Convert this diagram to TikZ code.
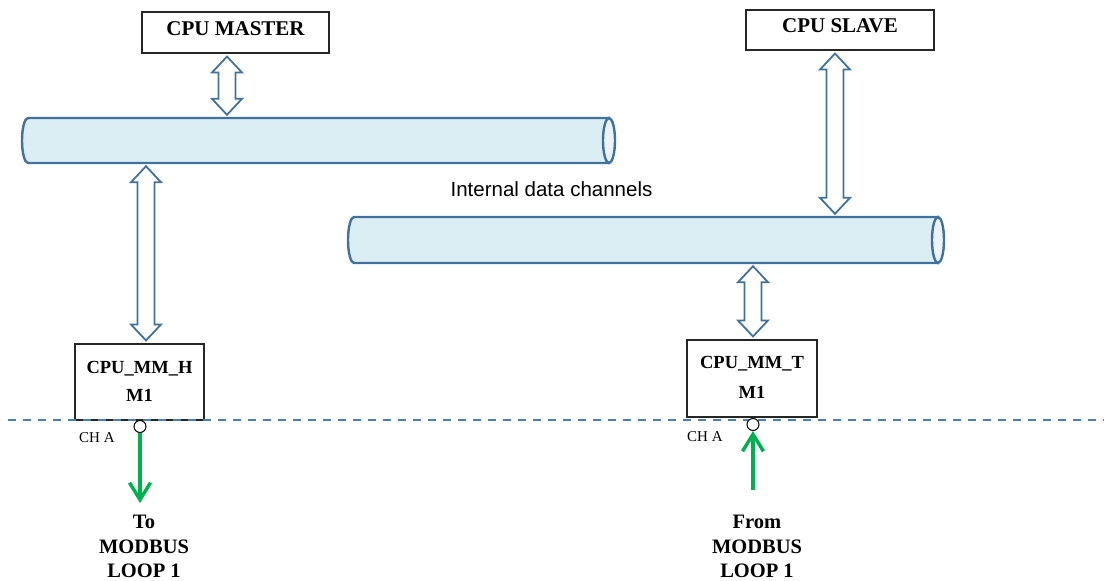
\documentclass[tikz,border=0pt]{standalone}
\usepackage{fontspec}
\setmainfont{Liberation Serif}
\newfontfamily\arialfont{Liberation Sans}
\usetikzlibrary{arrows.meta,calc}

\definecolor{busline}{HTML}{41719C}
\definecolor{busfill}{HTML}{DAEEF3}
\definecolor{busend}{HTML}{EAF4F8}
\definecolor{divline}{HTML}{4A7EBB}
\definecolor{loopgreen}{HTML}{00B050}

% hollow two-headed bus arrow between two anchors, at a given x (px)
\newcommand\busarrow[3]{%
  \draw[busarrow] let \p1=(#2), \p2=(#3),
        \p3=({#1pt},{\y1-3pt}), \p4=({#1pt},{\y2+3pt}) in
    (\p3) -- ({\x3+15pt},{\y3-16pt}) -- ({\x3+8.5pt},{\y3-16pt})
    -- ({\x3+8.5pt},{\y4+16pt}) -- ({\x3+15pt},{\y4+16pt}) -- (\p4)
    -- ({\x3-15pt},{\y4+16pt}) -- ({\x3-8.5pt},{\y4+16pt})
    -- ({\x3-8.5pt},{\y3-16pt}) -- ({\x3-15pt},{\y3-16pt}) -- cycle;}

% horizontal pipe: left x, right x, top y, bottom y
\newcommand\pipe[4]{%
  \pgfmathsetmacro\pry{(#4-#3)/2}%
  \draw[pipebody] (#2-6,#3) -- (#1+6,#3)
     arc[start angle=90, end angle=270, x radius=6pt, y radius=\pry pt]
     -- (#2-6,#4) -- cycle;
  \draw[pipeend] (#2-6,{(#3+#4)/2}) ellipse[x radius=6pt, y radius=\pry pt];}

\tikzset{
  box/.style={draw=black!85, line width=1.1pt, fill=white, inner sep=0pt},
  boxtext/.style={font=\bfseries\fontsize{21}{25}\selectfont, anchor=base, inner sep=0pt},
  modtext/.style={font=\bfseries\fontsize{18.5}{22}\selectfont, anchor=base, inner sep=0pt},
  looptext/.style={font=\bfseries\fontsize{20.5}{24}\selectfont, anchor=base, inner sep=0pt},
  chtext/.style={font=\fontsize{15}{18}\selectfont, anchor=base west, inner sep=0pt},
  busarrow/.style={draw=busline, line width=1.8pt, fill=white, line join=miter},
  pipebody/.style={draw=busline, line width=2.4pt, fill=busfill},
  pipeend/.style={draw=busline, line width=2.4pt, fill=busend},
  port/.style={circle, draw=black, line width=1pt, fill=white, inner sep=0pt, minimum size=12pt},
  looparrow/.style={draw=loopgreen, line width=3.5pt,
    -{Straight Barb[length=17pt,width=21pt,line width=3.5pt]}},
  divider/.style={draw=divline, line width=1.8pt, dash pattern=on 7.5pt off 7.5pt}
}

\begin{document}
\begin{tikzpicture}[x=1pt, y=-1pt]
  \useasboundingbox (0,0) rectangle (1104,581);

  % data channels
  \pipe{22}{615}{118}{163}
  \pipe{348}{944}{217}{263}
  \node[inner sep=0pt, minimum width=593pt, minimum height=45pt] (busA) at (318.5,140.5) {};
  \node[inner sep=0pt, minimum width=596pt, minimum height=46pt] (busB) at (646,240) {};
  \node[font=\arialfont\fontsize{20.5}{24}\selectfont, anchor=base, inner sep=0pt]
    (chan) at (551.5,196.5) {Internal data channels};

  % processors
  \node[box, minimum width=187pt, minimum height=41pt] (master) at (235.5,32.5) {};
  \node[boxtext] (masterlbl) at (235.5,35) {CPU MASTER};
  \node[box, minimum width=188pt, minimum height=40pt] (slave) at (840,30) {};
  \node[boxtext] (slavelbl) at (840,32.7) {CPU SLAVE};

  % communication modules
  \node[box, minimum width=129pt, minimum height=76pt] (mmh) at (139.5,382) {};
  \node[modtext] (mmhA) at (139.5,373) {CPU\_MM\_H};
  \node[modtext] (mmhB) at (139.5,401.5) {M1};
  \node[box, minimum width=130pt, minimum height=77pt] (mmt) at (752,378.5) {};
  \node[modtext] (mmtA) at (752,368) {CPU\_MM\_T};
  \node[modtext] (mmtB) at (752,398) {M1};

  % bus connections
  \busarrow{227}{master.south}{busA.north}
  \busarrow{146}{busA.south}{mmh.north}
  \busarrow{835}{slave.south}{busB.north}
  \busarrow{753}{busB.south}{mmt.north}

  % boundary line
  \coordinate (divL) at (8,420);
  \coordinate (divR) at (1104,420);
  \draw[divider] (divL) -- (divR);

  % serial ports
  \node[port] (portH) at (140,426.5) {};
  \node[port] (portT) at (753,424.5) {};
  \node[chtext] (chH) at (79,442.5) {CH A};
  \node[chtext] (chT) at (687,441.5) {CH A};

  % Modbus loop links
  \coordinate (outH) at (140,503);
  \coordinate (inT) at (753,490);
  \draw[looparrow] (portH.south) -- (outH);
  \draw[looparrow] (inT) -- (portT.south);

  \node[looptext] (toA) at (144,528) {To};
  \node[looptext] (toB) at (144,553) {MODBUS};
  \node[looptext] (toC) at (144,577) {LOOP 1};
  \node[looptext] (frA) at (757,528) {From};
  \node[looptext] (frB) at (757,553) {MODBUS};
  \node[looptext] (frC) at (757,577) {LOOP 1};
\end{tikzpicture}
\end{document}
